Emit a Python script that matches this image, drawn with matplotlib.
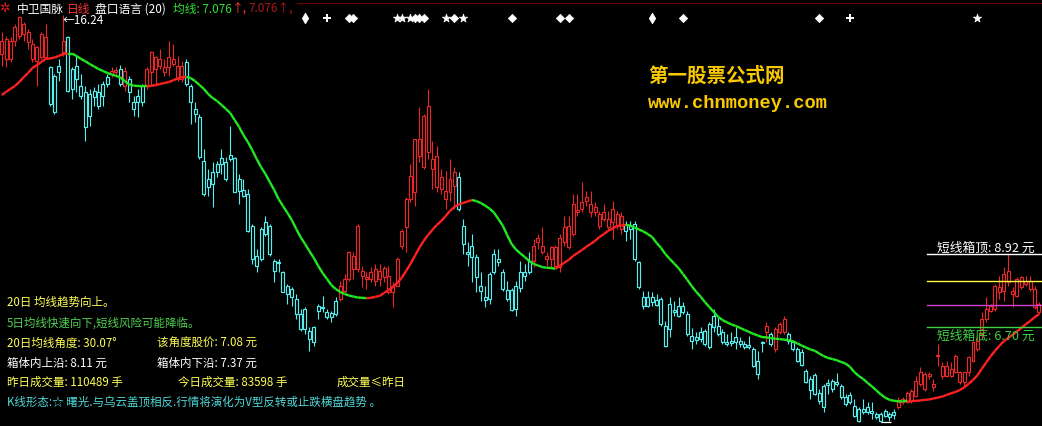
import numpy as np
import matplotlib
matplotlib.use("Agg")
import matplotlib.pyplot as plt
from matplotlib.collections import LineCollection
from matplotlib.transforms import blended_transform_factory

# daily candles (price, yuan)
opens = [15.04, 14.89, 14.89, 15.44, 15.59, 15.65, 15.41, 14.89, 14.82, 14.95,
         14.95, 14.64, 14.37, 14.67, 15.10, 15.56, 14.58, 14.67, 14.06, 13.88,
         13.81, 13.91, 13.88, 14.12, 14.33, 14.43, 14.49, 14.58, 14.06, 14.27,
         13.57, 13.75, 14.06, 14.06, 14.49, 14.58, 14.67, 14.49, 14.64, 14.73,
         14.27, 14.27, 14.79, 14.06, 13.36, 13.11, 11.77, 11.22, 11.43, 11.67,
         11.86, 11.74, 11.95, 11.86, 11.22, 10.88, 10.76, 9.78, 8.86, 9.69,
         9.90, 9.78, 8.71, 8.68, 8.37, 7.94, 7.85, 7.55, 7.09, 7.24,
         6.57, 6.69, 7.33, 7.30, 7.15, 7.12, 7.49, 7.55, 7.79, 8.16,
         8.46, 8.46, 8.25, 8.16, 8.16, 8.10, 8.16, 8.22, 7.76, 7.76,
         7.94, 9.17, 9.75, 10.60, 10.82, 11.92, 11.58, 12.04, 11.52, 10.97,
         10.91, 10.60, 10.82, 11.00, 11.28, 9.78, 8.98, 9.17, 8.83, 7.94,
         7.61, 8.31, 8.92, 8.77, 8.37, 7.82, 7.82, 7.94, 8.37, 8.37,
         8.71, 8.71, 9.29, 8.98, 8.77, 8.77, 8.56, 8.52, 9.29, 9.14,
         9.53, 10.21, 10.30, 10.54, 10.21, 10.21, 9.78, 9.99, 9.75, 9.90,
         9.78, 9.69, 9.84, 9.78, 9.84, 8.68, 7.61, 7.61, 7.61, 7.52,
         7.55, 6.72, 7.39, 7.21, 7.33, 7.33, 7.09, 6.41, 6.38, 6.54,
         6.57, 6.78, 7.03, 6.72, 6.54, 6.23, 6.26, 6.38, 6.26, 6.17,
         6.14, 6.02, 5.65, 6.23, 6.54, 6.48, 6.02, 6.54, 6.54, 6.48,
         6.23, 6.02, 5.93, 5.34, 5.10, 5.22, 4.67, 4.89, 4.98, 5.04,
         5.01, 4.89, 4.55, 4.61, 4.28, 4.18, 4.18, 4.24, 4.12, 4.03,
         4.03, 4.12, 4.03, 4.09, 4.24, 4.40, 4.40, 4.43, 4.58, 4.95,
         4.79, 5.19, 4.85, 5.80, 5.19, 5.19, 5.19, 5.31, 5.01, 5.01,
         5.31, 5.65, 6.02, 6.48, 6.93, 7.18, 7.24, 7.76, 7.79, 8.07,
         7.70, 7.64, 7.91, 8.00, 7.85, 7.30, 7.15]
highs = [15.71, 15.59, 15.56, 15.96, 16.20, 16.02, 15.80, 15.50, 15.28, 15.71,
         15.96, 14.67, 14.43, 14.89, 16.24, 15.59, 14.64, 14.98, 14.43, 14.06,
         13.97, 14.03, 14.12, 14.21, 14.43, 14.64, 14.64, 14.70, 14.64, 14.37,
         13.75, 13.97, 14.12, 14.64, 15.13, 14.98, 15.19, 14.89, 15.44, 15.34,
         14.98, 14.82, 14.89, 14.12, 13.57, 13.20, 12.13, 11.52, 11.74, 11.77,
         12.13, 11.89, 12.84, 11.89, 11.37, 11.22, 10.91, 9.84, 9.08, 9.75,
         10.08, 9.84, 8.77, 8.77, 8.40, 8.00, 7.91, 7.70, 7.24, 7.30,
         6.69, 6.72, 7.39, 7.64, 7.24, 7.18, 7.61, 8.10, 8.31, 9.01,
         8.98, 9.84, 8.56, 8.37, 8.52, 8.62, 8.62, 8.56, 8.56, 8.07,
         8.83, 9.69, 10.67, 11.67, 12.44, 13.42, 13.20, 13.97, 12.38, 12.22,
         11.52, 11.46, 11.83, 11.58, 11.43, 9.99, 9.29, 9.53, 8.92, 8.37,
         7.94, 8.37, 9.08, 9.08, 8.46, 8.10, 7.88, 8.10, 8.71, 8.62,
         8.98, 9.38, 9.53, 9.75, 8.98, 9.17, 9.20, 9.53, 10.08, 10.08,
         10.76, 10.76, 11.12, 10.85, 10.85, 10.51, 10.24, 10.45, 10.24, 10.54,
         10.24, 10.21, 9.93, 9.93, 9.93, 8.71, 7.79, 7.79, 7.76, 7.70,
         7.61, 6.87, 7.61, 7.49, 7.61, 7.45, 7.18, 6.66, 6.54, 6.69,
         6.63, 6.84, 7.24, 7.00, 6.63, 6.48, 6.54, 6.69, 6.38, 6.26,
         6.41, 6.08, 5.96, 6.26, 6.84, 6.54, 6.69, 6.84, 7.03, 6.54,
         6.29, 6.08, 6.02, 5.41, 5.19, 5.28, 4.79, 4.95, 5.10, 5.10,
         5.28, 4.95, 4.64, 4.70, 4.49, 4.24, 4.49, 4.40, 4.40, 4.09,
         4.09, 4.18, 4.09, 4.18, 4.55, 4.55, 4.73, 4.79, 5.19, 5.47,
         5.31, 5.31, 5.10, 6.17, 5.62, 5.65, 5.62, 5.87, 5.34, 5.31,
         5.80, 6.26, 6.41, 7.15, 7.61, 7.39, 8.00, 8.25, 8.52, 8.92,
         7.91, 8.22, 8.25, 8.25, 8.25, 7.94, 7.45]
lows = [14.67, 14.64, 14.79, 15.28, 15.50, 15.44, 15.19, 14.79, 14.06, 14.89,
        14.89, 13.45, 13.20, 14.21, 14.98, 13.88, 13.66, 13.88, 13.66, 12.38,
        12.84, 13.45, 13.36, 13.45, 14.03, 14.33, 14.37, 14.06, 13.91, 13.57,
        13.14, 13.11, 13.45, 13.97, 14.06, 14.06, 14.58, 14.37, 14.37, 14.67,
        14.21, 14.18, 14.06, 12.90, 12.96, 11.83, 10.70, 10.70, 10.36, 11.28,
        11.37, 11.15, 11.77, 10.82, 10.45, 10.67, 9.59, 8.62, 8.37, 8.71,
        9.47, 8.86, 8.07, 8.37, 7.76, 7.39, 7.33, 6.93, 6.57, 6.48,
        5.96, 6.11, 6.93, 7.15, 6.93, 6.84, 7.03, 7.49, 7.70, 8.10,
        8.16, 8.37, 7.91, 7.85, 8.07, 7.94, 7.94, 8.07, 7.70, 7.30,
        7.94, 9.08, 8.98, 10.51, 10.39, 11.74, 11.52, 11.83, 10.91, 10.82,
        10.76, 10.30, 10.54, 10.30, 10.24, 8.92, 8.56, 8.07, 7.76, 7.49,
        7.30, 7.39, 8.31, 8.56, 7.79, 7.49, 7.18, 7.03, 7.76, 8.10,
        8.31, 8.52, 9.08, 8.92, 8.56, 8.52, 8.52, 8.37, 9.17, 9.08,
        9.47, 10.08, 10.21, 10.39, 10.05, 10.08, 9.69, 9.93, 9.69, 9.38,
        9.69, 9.53, 9.32, 9.38, 8.71, 7.85, 7.24, 7.30, 7.33, 7.33,
        6.72, 6.08, 6.38, 7.03, 7.00, 7.09, 6.41, 6.02, 6.17, 6.23,
        6.11, 6.02, 6.54, 6.41, 6.17, 6.11, 6.11, 6.02, 6.08, 6.02,
        6.02, 5.47, 5.10, 5.93, 6.23, 6.11, 5.93, 6.48, 6.48, 6.17,
        5.96, 5.62, 5.50, 4.98, 4.49, 4.61, 4.34, 4.09, 4.64, 4.70,
        4.89, 4.49, 4.28, 4.34, 3.94, 3.78, 4.03, 4.03, 3.88, 3.88,
        3.77, 3.94, 3.81, 3.88, 4.18, 4.34, 4.37, 4.37, 4.55, 4.89,
        4.73, 5.10, 4.73, 5.50, 5.10, 5.16, 5.16, 5.28, 4.95, 4.89,
        5.19, 5.62, 5.96, 6.32, 6.84, 7.15, 7.18, 7.55, 7.49, 7.94,
        7.30, 7.61, 7.85, 7.94, 7.79, 7.24, 7.09]
closes = [15.44, 15.50, 15.44, 15.86, 16.17, 15.96, 15.71, 15.34, 15.25, 15.65,
          15.56, 13.51, 13.26, 14.49, 15.44, 13.91, 13.97, 14.27, 13.75, 12.81,
          13.14, 13.72, 13.45, 13.75, 14.12, 14.52, 14.55, 14.12, 14.52, 13.88,
          13.36, 13.57, 13.57, 14.58, 15.10, 14.95, 14.89, 14.64, 14.95, 14.89,
          14.67, 14.67, 14.12, 13.57, 13.20, 11.89, 10.76, 10.97, 11.06, 11.43,
          11.67, 11.22, 11.83, 10.82, 10.85, 10.70, 9.63, 8.77, 8.56, 8.77,
          9.53, 8.92, 8.40, 8.65, 7.76, 7.70, 7.61, 7.09, 6.63, 6.63,
          6.32, 6.23, 7.18, 7.27, 7.00, 7.00, 7.09, 7.94, 8.16, 8.98,
          8.86, 9.78, 8.40, 8.22, 8.37, 8.46, 8.40, 8.49, 8.25, 7.94,
          8.77, 9.63, 10.60, 11.31, 12.44, 12.44, 13.14, 13.45, 11.83, 11.92,
          11.28, 10.85, 11.22, 11.43, 10.30, 9.23, 8.92, 8.83, 8.22, 7.79,
          7.52, 7.55, 8.37, 8.68, 7.85, 7.55, 7.21, 7.24, 7.88, 8.25,
          8.37, 9.17, 9.41, 9.17, 8.86, 9.14, 9.14, 9.41, 9.75, 9.78,
          10.45, 10.27, 10.51, 10.67, 10.45, 10.36, 10.15, 10.21, 9.99, 10.30,
          10.15, 10.08, 9.63, 9.69, 8.77, 7.91, 7.33, 7.33, 7.45, 7.36,
          6.78, 6.11, 6.63, 7.15, 7.03, 7.15, 6.48, 6.26, 6.29, 6.32,
          6.17, 6.08, 6.69, 6.48, 6.23, 6.17, 6.20, 6.23, 6.17, 6.08,
          6.08, 5.50, 5.25, 6.20, 6.72, 6.17, 6.63, 6.78, 6.93, 6.26,
          6.02, 5.65, 5.53, 5.01, 4.76, 4.64, 4.43, 4.24, 4.92, 4.79,
          4.95, 4.55, 4.34, 4.40, 3.97, 3.81, 4.09, 4.09, 4.06, 3.94,
          3.81, 3.97, 3.94, 4.00, 4.40, 4.49, 4.67, 4.73, 5.04, 5.31,
          5.25, 5.25, 4.95, 5.83, 5.50, 5.50, 5.41, 5.80, 5.31, 5.31,
          5.77, 6.23, 6.26, 6.93, 7.24, 7.33, 7.94, 7.91, 8.31, 8.40,
          7.79, 8.16, 8.22, 8.10, 8.10, 7.85, 7.39]
# 20-day moving average
ma20 = [13.78, 13.88, 13.97, 14.06, 14.18, 14.33, 14.46, 14.61, 14.70, 14.79,
        14.89, 14.90, 14.93, 14.98, 15.04, 15.05, 15.05, 14.98, 14.89, 14.82,
        14.73, 14.66, 14.58, 14.52, 14.46, 14.41, 14.37, 14.32, 14.21, 14.11,
        14.07, 14.06, 14.05, 14.05, 14.06, 14.09, 14.12, 14.15, 14.18, 14.23,
        14.29, 14.33, 14.34, 14.30, 14.21, 14.09, 13.97, 13.81, 13.69, 13.60,
        13.48, 13.36, 13.23, 13.02, 12.81, 12.56, 12.35, 12.10, 11.83, 11.58,
        11.37, 11.12, 10.88, 10.60, 10.39, 10.18, 9.96, 9.69, 9.44, 9.23,
        9.01, 8.80, 8.56, 8.34, 8.16, 7.97, 7.85, 7.76, 7.70, 7.65,
        7.62, 7.59, 7.58, 7.57, 7.58, 7.61, 7.64, 7.73, 7.82, 7.91,
        8.04, 8.19, 8.40, 8.62, 8.86, 9.11, 9.32, 9.50, 9.66, 9.81,
        9.93, 10.08, 10.24, 10.36, 10.44, 10.48, 10.53, 10.57, 10.54, 10.48,
        10.40, 10.31, 10.19, 9.99, 9.79, 9.50, 9.23, 9.06, 8.94, 8.83,
        8.71, 8.62, 8.57, 8.52, 8.50, 8.49, 8.47, 8.56, 8.65, 8.74,
        8.86, 8.95, 9.04, 9.14, 9.23, 9.32, 9.44, 9.53, 9.63, 9.70,
        9.78, 9.79, 9.81, 9.79, 9.73, 9.67, 9.61, 9.53, 9.44, 9.26,
        9.11, 8.92, 8.77, 8.63, 8.49, 8.31, 8.13, 7.94, 7.77, 7.62,
        7.45, 7.30, 7.15, 7.00, 6.90, 6.83, 6.77, 6.72, 6.66, 6.60,
        6.54, 6.48, 6.43, 6.38, 6.37, 6.35, 6.33, 6.32, 6.30, 6.29,
        6.25, 6.19, 6.12, 6.06, 6.00, 5.96, 5.88, 5.80, 5.74, 5.71,
        5.67, 5.62, 5.57, 5.47, 5.31, 5.19, 5.10, 4.98, 4.87, 4.75,
        4.63, 4.53, 4.46, 4.43, 4.42, 4.41, 4.41, 4.42, 4.43, 4.44,
        4.46, 4.47, 4.50, 4.53, 4.56, 4.61, 4.66, 4.70, 4.76, 4.84,
        4.95, 5.07, 5.21, 5.41, 5.60, 5.79, 5.96, 6.11, 6.25, 6.35,
        6.45, 6.55, 6.66, 6.77, 6.87, 6.98, 7.08]

# signal marks along the top (candle index, kind)
signal_idx = [69, 74, 79, 80, 90, 91, 93, 94, 95, 96, 101, 103, 105,
              116, 127, 129, 148, 155, 186, 193, 222]
signal_kind = ['d', '+', 'D', 'D', '*', '*', '*', 'D', 'D', 'D', '*', 'D', '*',
               'D', 'D', 'D', 'd', 'D', 'D', '+', '*']

box_top, box_upper, box_lower, box_bottom = 8.92, 8.11, 7.37, 6.70

W, H = 1042, 427
CJK = ['Noto Sans CJK SC', 'DejaVu Sans']
RED_K = '#e8282a'
CYAN_K = '#54f0f0'

o = np.array(opens); h = np.array(highs); l = np.array(lows); c = np.array(closes)
ma = np.array(ma20)
n = len(c)
x = np.arange(n)
cols = np.where(c >= o, RED_K, CYAN_K)

fig = plt.figure(figsize=(W / 100, H / 100), dpi=100, facecolor='black')
ax = fig.add_axes([0, 0, 1, 1])
ax.set_facecolor('black')
ax.set_xlim(-0.39, 236.7)
ax.set_ylim(3.66, 16.72)
ax.axis('off')

# candles: wick then hollow body
ax.vlines(x, l, h, colors=cols, linewidth=0.8, zorder=2)
ax.bar(x, np.maximum(np.abs(c - o), 0.01), bottom=np.minimum(o, c), width=0.68,
       facecolor='black', edgecolor=cols, linewidth=0.85, zorder=3)

# moving average, red while rising, green while falling
segs = [[(i, ma[i]), (i + 1, ma[i + 1])] for i in range(n - 1)]
seg_cols = ['#ff2222' if ma[i + 1] > ma[i] else '#22e822' for i in range(n - 1)]
ax.add_collection(LineCollection(segs, colors=seg_cols, linewidth=1.7, zorder=4))

# box lines on the right
for val, col in [(box_top, 'white'), (box_upper, '#ffff40'),
                 (box_lower, '#d040d0'), (box_bottom, '#40d040')]:
    ax.axhline(val, xmin=927 / W, xmax=1, color=col, linewidth=1.0, zorder=5)

# lowest price tick
lo_i = int(np.argmin(l))
ax.hlines(l[lo_i], lo_i, lo_i + 2.3, color='white', linewidth=0.9, zorder=5)

# signal marks
trans = blended_transform_factory(ax.transData, ax.transAxes)
for i, k in zip(signal_idx, signal_kind):
    size = {'D': 18, 'd': 30, '+': 30, '*': 40}[k]
    ax.scatter([i], [1 - 19 / H], transform=trans, marker=k, s=size, color='white',
               linewidths=1.4 if k == '+' else 0.5, zorder=6, clip_on=False)

# thin top border
ax.plot([297 / W, 1], [1 - 3.5 / H, 1 - 3.5 / H], transform=ax.transAxes,
        color='#6a0000', linewidth=0.8)


def put(px, py, s, color, size=8.3, **kw):
    fig.text(px / W, 1 - py / H, s, color=color, fontsize=size,
             ha='left', va='center', family=CJK, **kw)


# title bar
fig.text(4 / W, 1 - 8 / H, '✲', color='#e02020', fontsize=9, ha='center',
         va='center', family=['DejaVu Sans'])
put(17, 9, '中卫国脉', 'white', 8.5)
put(67, 9, '日线', '#ff3030', 8.5)
put(95, 9, '盘口语言 (20)', 'white', 8.5)
put(173, 9, '均线: 7.076', '#30e030', 8.5)
put(232, 9, '↑,', '#ff4040', 8.5)
put(248, 9, '7.076↑,', '#b01818', 8.5)
put(63, 21, '←16.24', 'white', 8.5)

# watermark
put(648, 76, '第一股票公式网', '#f8c800', 14, fontweight='bold')
fig.text(648 / W, 1 - 103 / H, 'www.chnmoney.com', color='#f8c800', fontsize=13.5,
         ha='left', va='center', family=['Liberation Mono'], fontweight='bold')

# box labels
put(937, 248, '短线箱顶: 8.92 元', 'white', 9.2)
put(937, 336, '短线箱底: 6.70 元', '#40d040', 9.2)

# commentary block
YEL = '#ffff55'
put(7, 302, '20日 均线趋势向上。', YEL)
put(7, 323, '5日均线快速向下,短线风险可能降临。', '#50d050')
put(7, 343, '20日均线角度: 30.07°', YEL)
put(157, 343, '该角度股价: 7.08 元', YEL)
put(7, 363, '箱体内上沿: 8.11 元', 'white')
put(157, 363, '箱体内下沿: 7.37 元', 'white')
put(7, 382, '昨日成交量: 110489 手', YEL)
put(178, 382, '今日成交量: 83598 手', YEL)
put(337, 382, '成交量≤昨日', YEL)
put(7, 402, 'K线形态:☆ 曙光.与乌云盖顶相反.行情将演化为V型反转或止跌横盘趋势 。', '#50d8d8')

fig.savefig('out.png', dpi=100, facecolor='black')
